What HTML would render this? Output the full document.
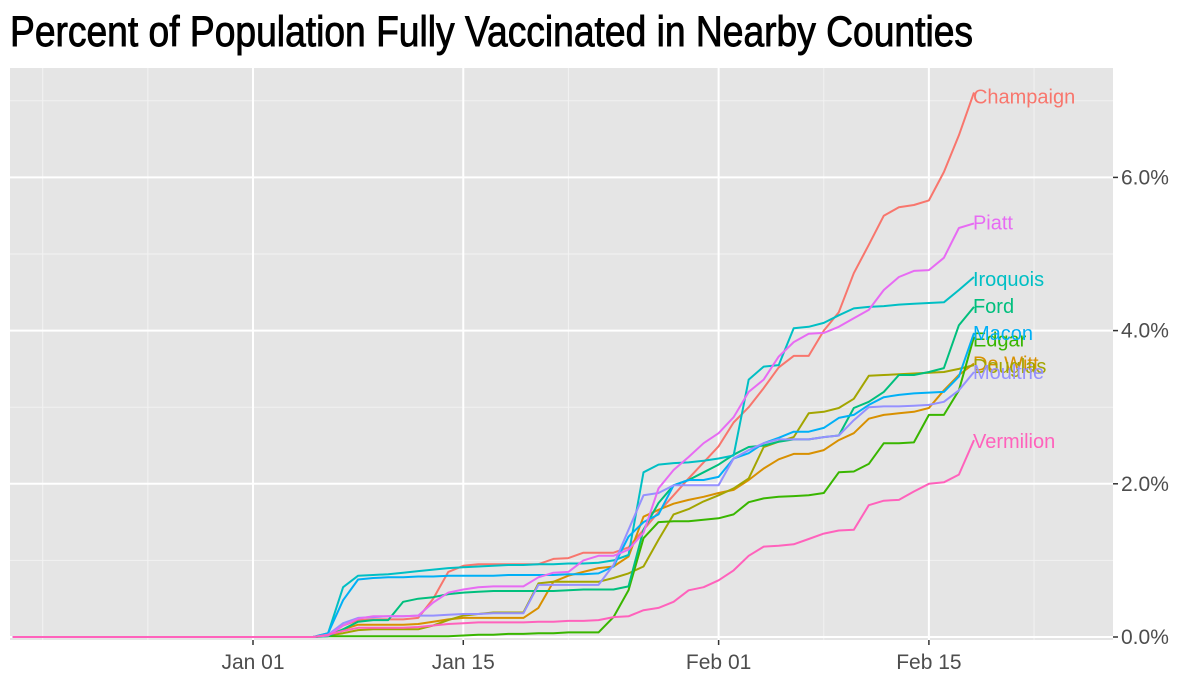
<!DOCTYPE html>
<html><head><meta charset="utf-8"><style>
html,body{margin:0;padding:0;background:#fff;width:1200px;height:685px;overflow:hidden}
svg text{font-family:"Liberation Sans",sans-serif}
</style></head><body>
<svg id="chart" width="1200" height="685" xmlns="http://www.w3.org/2000/svg">
<text x="10" y="46" font-size="43" fill="#000" stroke="#000" stroke-width="0.9" textLength="963" lengthAdjust="spacingAndGlyphs">Percent of Population Fully Vaccinated in Nearby Counties</text>
<rect x="10" y="68" width="1103" height="572" fill="#e5e5e5"/>
<g id="grid"></g><g id="series"></g><g id="labels"></g><g id="axes"></g>
</svg>
<script>
const startDay = -16;
const Z = [0,0,0,0,0,0,0,0,0,0,0,0,0,0,0,0,0,0,0,0];
const names = ["Champaign","De Witt","Douglas","Edgar","Ford","Iroquois","Macon","Moultrie","Piatt","Vermilion"];
const colors = ["#F8766D","#D89000","#A3A500","#39B600","#00BF7D","#00BFC4","#00B0F6","#9590FF","#E76BF3","#FF62BC"];
const champaign = [0,0.02,0.15,0.22,0.23,0.23,0.23,0.25,0.5,0.85, 0.93,0.95,0.95,0.95,0.95,0.95,1.02,1.03,1.1,1.1, 1.1,1.17,1.4,1.63,1.85,2.07,2.28,2.49,2.8,3.0, 3.25,3.52,3.67,3.67,4.0,4.24,4.75,5.12,5.5,5.61, 5.64,5.7,6.07,6.55,7.11];
const dewitt = [0,0.02,0.1,0.16,0.16,0.16,0.16,0.17,0.2,0.23, 0.25,0.25,0.25,0.25,0.25,0.38,0.72,0.8,0.85,0.9, 0.92,1.05,1.57,1.66,1.74,1.79,1.83,1.88,1.92,2.05, 2.2,2.32,2.39,2.39,2.44,2.57,2.66,2.85,2.9,2.92, 2.94,2.99,3.22,3.42,3.57];
const douglas = [0,0.02,0.05,0.09,0.1,0.1,0.1,0.1,0.15,0.22, 0.28,0.3,0.32,0.32,0.32,0.7,0.72,0.72,0.72,0.72, 0.77,0.83,0.92,1.27,1.6,1.67,1.77,1.85,1.94,2.07, 2.48,2.55,2.61,2.92,2.94,2.99,3.11,3.41,3.42,3.43, 3.44,3.45,3.46,3.5,3.55];
const edgar = [0,0.01,0.01,0.01,0.01,0.01,0.01,0.01,0.01,0.01, 0.02,0.03,0.03,0.04,0.04,0.05,0.05,0.06,0.06,0.06, 0.26,0.61,1.29,1.5,1.51,1.51,1.53,1.55,1.6,1.76, 1.81,1.83,1.84,1.85,1.88,2.15,2.16,2.26,2.53,2.53, 2.54,2.9,2.9,3.22,3.92];
const ford = [0,0.01,0.1,0.2,0.22,0.22,0.46,0.5,0.52,0.56, 0.58,0.59,0.6,0.6,0.6,0.6,0.6,0.61,0.62,0.62, 0.62,0.66,1.4,1.75,1.98,2.05,2.15,2.25,2.38,2.48, 2.5,2.55,2.58,2.58,2.61,2.63,2.99,3.07,3.2,3.42, 3.42,3.46,3.51,4.07,4.31];
const iroquois = [0,0.05,0.65,0.8,0.81,0.82,0.84,0.86,0.88,0.9, 0.91,0.92,0.93,0.94,0.94,0.95,0.95,0.96,0.96,0.97, 1.0,1.07,2.15,2.25,2.27,2.28,2.3,2.33,2.37,3.36, 3.53,3.55,4.03,4.05,4.1,4.2,4.29,4.31,4.32,4.34, 4.35,4.36,4.37,4.53,4.7];
const macon = [0,0.05,0.48,0.75,0.77,0.78,0.78,0.79,0.79,0.8, 0.8,0.8,0.8,0.81,0.81,0.81,0.81,0.82,0.82,0.83, 0.92,1.31,1.5,1.6,1.98,2.05,2.05,2.09,2.33,2.4, 2.53,2.6,2.68,2.68,2.73,2.86,2.9,3.03,3.13,3.16, 3.18,3.19,3.2,3.4,3.97];
const moultrie = [0,0.03,0.18,0.25,0.26,0.27,0.27,0.28,0.28,0.29, 0.3,0.3,0.31,0.31,0.31,0.68,0.68,0.68,0.68,0.68, 0.94,1.4,1.85,1.88,1.98,1.98,1.98,1.98,2.33,2.44, 2.53,2.58,2.58,2.58,2.61,2.63,2.83,3.0,3.01,3.01, 3.02,3.03,3.07,3.22,3.46];
const piatt = [0,0.02,0.15,0.24,0.27,0.27,0.27,0.28,0.45,0.58, 0.62,0.65,0.66,0.66,0.66,0.78,0.84,0.85,1.0,1.06, 1.06,1.14,1.36,1.94,2.18,2.35,2.53,2.66,2.87,3.2, 3.36,3.66,3.85,3.96,3.97,4.05,4.16,4.27,4.53,4.7, 4.78,4.79,4.95,5.34,5.4];
const vermilion = [0,0.03,0.08,0.12,0.12,0.12,0.12,0.13,0.15,0.17, 0.18,0.19,0.19,0.19,0.19,0.2,0.2,0.21,0.21,0.22, 0.26,0.27,0.35,0.38,0.46,0.61,0.65,0.74,0.87,1.06, 1.18,1.19,1.21,1.28,1.35,1.39,1.4,1.72,1.78,1.79, 1.9,2.0,2.02,2.12,2.57];
const seriesValues = [champaign,dewitt,douglas,edgar,ford,iroquois,macon,moultrie,piatt,vermilion].map(a=>Z.concat(a));
const labelOffsets = [5,1,2,4,0,3,1,1,0,2];
const yTicks = [0,2,4,6];
const yTickLabels = ["0.0%","2.0%","4.0%","6.0%"];
const yMinor = [1,3,5,7];
const xTicks = [0,14,31,45];
const xTickLabels = ["Jan 01","Jan 15","Feb 01","Feb 15"];
const xMinor = [-14,-7,21,38,52];

const NS="http://www.w3.org/2000/svg";
const X = d => 253 + d*15.02;
const Y = v => 637 - v*76.6;
function mk(tag, attrs, parent){const e=document.createElementNS(NS,tag);for(const k in attrs)e.setAttribute(k,attrs[k]);parent.appendChild(e);return e;}
const grid=document.getElementById('grid'), ser=document.getElementById('series'), lab=document.getElementById('labels'), axes=document.getElementById('axes');
yMinor.forEach(v=>{const l=mk('line',{x1:10,x2:1113,y1:Y(v),y2:Y(v),stroke:'#f2f2f2','stroke-width':1},grid);

});
xMinor.forEach(d=>{const l=mk('line',{x1:X(d),x2:X(d),y1:68,y2:640,stroke:'#f2f2f2','stroke-width':1},grid);

});
yTicks.forEach((v,i)=>{const l=mk('line',{x1:10,x2:1113,y1:Y(v),y2:Y(v),stroke:'#fff','stroke-width':2},grid);


const t=mk('line',{x1:1113,x2:1118,y1:Y(v),y2:Y(v),stroke:'#333','stroke-width':1.5},axes);


const tx=mk('text',{x:1121,y:Y(v)+7,'font-size':21,fill:'#4d4d4d'},axes);tx.textContent=yTickLabels[i];

});
xTicks.forEach((d,i)=>{const l=mk('line',{x1:X(d),x2:X(d),y1:68,y2:640,stroke:'#fff','stroke-width':2},grid);


const t=mk('line',{x1:X(d),x2:X(d),y1:640,y2:645,stroke:'#333','stroke-width':1.5},axes);


const tx=mk('text',{x:X(d),y:669,'font-size':21,fill:'#4d4d4d','text-anchor':'middle'},axes);tx.textContent=xTickLabels[i];

});
seriesValues.forEach((vals,i)=>{
  const pts=vals.map((v,j)=>X(startDay+j).toFixed(1)+','+Y(v).toFixed(1)).join(' ');
  const p=mk('polyline',{points:pts,fill:'none',stroke:colors[i],'stroke-width':2,'stroke-linejoin':'round'},ser);
  
  
  const last=vals[vals.length-1];
  const t=mk('text',{x:X(startDay+vals.length-1)-1,y:Y(last)+6+labelOffsets[i],'font-size':20,fill:colors[i]},lab);
  t.textContent=names[i];
  
  
});
</script>
</body></html>
